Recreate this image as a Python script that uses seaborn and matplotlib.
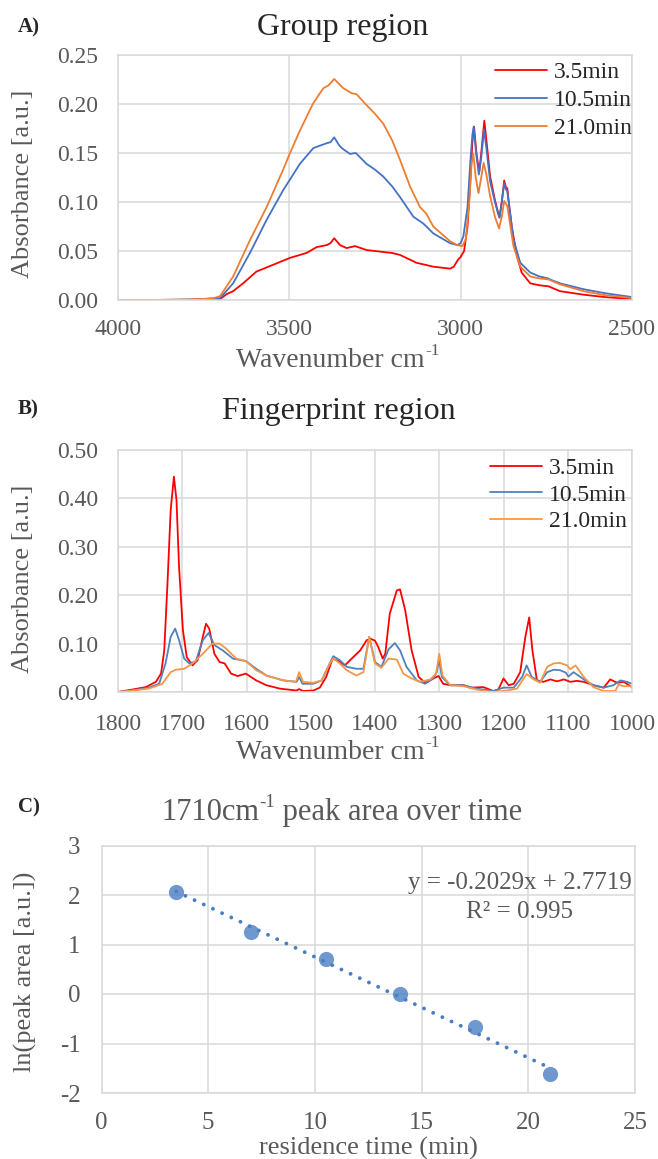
import matplotlib
matplotlib.use("Agg")
import numpy as np
import pandas as pd
import matplotlib.pyplot as plt
import seaborn as sns

# ---------------- A) group region (wavenumber, absorbance) ----------------
a_wn_35 = [4000, 3900, 3800, 3750, 3720, 3702, 3683, 3664, 3635, 3596, 3547, 3498, 3450, 3420,
           3391, 3380, 3369, 3352, 3333, 3308, 3275, 3250, 3226, 3200, 3177, 3129, 3080, 3031,
           3020, 3008, 3000, 2990, 2980, 2972, 2966, 2961, 2954, 2946, 2940, 2931, 2924, 2914,
           2900, 2887, 2880, 2873, 2868, 2864, 2858, 2851, 2836, 2822, 2797, 2770, 2744, 2710,
           2641, 2580, 2500]
a_ab_35 = [0.000, 0.000, 0.000, 0.0005, 0.001, 0.001, 0.006, 0.009, 0.017, 0.029, 0.036, 0.043,
           0.048, 0.054, 0.056, 0.058, 0.063, 0.056, 0.053, 0.055, 0.051, 0.050, 0.049, 0.048,
           0.046, 0.038, 0.034, 0.032, 0.034, 0.041, 0.044, 0.050, 0.075, 0.120, 0.160, 0.177,
           0.150, 0.130, 0.150, 0.183, 0.160, 0.126, 0.102, 0.084, 0.100, 0.122, 0.115, 0.114,
           0.095, 0.075, 0.045, 0.028, 0.017, 0.015, 0.014, 0.009, 0.0054, 0.003, 0.001]

a_wn_105 = [4000, 3900, 3800, 3750, 3702, 3664, 3615, 3566, 3518, 3469, 3430, 3391, 3380, 3369,
            3355, 3347, 3323, 3306, 3275, 3250, 3226, 3200, 3177, 3138, 3109, 3100, 3080, 3031,
            3010, 3000, 2992, 2980, 2972, 2966, 2962, 2955, 2947, 2940, 2932, 2925, 2914, 2900,
            2890, 2886, 2880, 2873, 2868, 2864, 2856, 2846, 2826, 2797, 2770, 2744, 2740, 2710,
            2641, 2580, 2500]
a_ab_105 = [0.000, 0.000, 0.0005, 0.001, 0.002, 0.017, 0.048, 0.082, 0.112, 0.139, 0.155, 0.160,
            0.161, 0.166, 0.158, 0.155, 0.149, 0.150, 0.139, 0.133, 0.126, 0.116, 0.105, 0.085,
            0.078, 0.075, 0.068, 0.058, 0.056, 0.058, 0.065, 0.095, 0.140, 0.168, 0.177, 0.150,
            0.128, 0.145, 0.174, 0.155, 0.121, 0.100, 0.087, 0.085, 0.100, 0.119, 0.113, 0.111,
            0.090, 0.062, 0.038, 0.028, 0.024, 0.022, 0.021, 0.017, 0.011, 0.007, 0.003]

a_wn_210 = [4000, 3900, 3800, 3750, 3720, 3702, 3664, 3615, 3566, 3518, 3498, 3469, 3430, 3401,
            3386, 3369, 3342, 3318, 3304, 3275, 3250, 3226, 3200, 3177, 3148, 3119, 3100, 3080,
            3031, 3010, 2995, 2985, 2975, 2968, 2963, 2956, 2948, 2940, 2933, 2925, 2914, 2900,
            2888, 2880, 2873, 2864, 2846, 2826, 2797, 2770, 2744, 2710, 2641, 2580, 2500]
a_ab_210 = [0.000, 0.000, 0.0005, 0.001, 0.002, 0.004, 0.024, 0.061, 0.095, 0.133, 0.150, 0.173,
            0.201, 0.216, 0.219, 0.2255, 0.216, 0.211, 0.210, 0.199, 0.190, 0.180, 0.163, 0.143,
            0.116, 0.095, 0.088, 0.075, 0.060, 0.056, 0.055, 0.062, 0.100, 0.140, 0.149, 0.125,
            0.109, 0.125, 0.140, 0.128, 0.106, 0.085, 0.073, 0.085, 0.101, 0.096, 0.055, 0.034,
            0.024, 0.022, 0.021, 0.016, 0.009, 0.005, 0.002]

# ---------------- B) fingerprint region ----------------
b_wn_35 = [1800, 1778, 1757, 1741, 1733, 1728, 1723, 1718, 1713, 1709, 1705, 1699, 1693, 1684,
           1676, 1668, 1663, 1658, 1650, 1642, 1634, 1624, 1614, 1601, 1585, 1569, 1548, 1522,
           1518, 1512, 1496, 1486, 1476, 1466, 1457, 1447, 1434, 1423, 1413, 1407, 1400, 1395,
           1388, 1384, 1377, 1366, 1361, 1353, 1343, 1332, 1322, 1309, 1301, 1294, 1283, 1262,
           1252, 1231, 1216, 1208, 1200, 1192, 1184, 1174, 1166, 1160, 1155, 1148, 1138, 1127,
           1117, 1106, 1096, 1086, 1075, 1060, 1044, 1034, 1023, 1013, 1000]
b_ab_35 = [0.000, 0.005, 0.010, 0.021, 0.038, 0.086, 0.224, 0.376, 0.445, 0.397, 0.259, 0.128,
           0.072, 0.055, 0.066, 0.114, 0.141, 0.131, 0.079, 0.062, 0.059, 0.038, 0.033, 0.038,
           0.024, 0.014, 0.007, 0.003, 0.006, 0.002, 0.003, 0.009, 0.031, 0.069, 0.064, 0.055,
           0.072, 0.086, 0.107, 0.110, 0.106, 0.093, 0.069, 0.079, 0.162, 0.210, 0.212, 0.169,
           0.086, 0.031, 0.019, 0.028, 0.033, 0.017, 0.014, 0.014, 0.009, 0.010, 0.002, 0.005,
           0.028, 0.014, 0.017, 0.041, 0.114, 0.154, 0.086, 0.024, 0.021, 0.026, 0.022, 0.026,
           0.021, 0.023, 0.021, 0.014, 0.009, 0.026, 0.019, 0.021, 0.010]

b_wn_105 = [1800, 1778, 1752, 1736, 1726, 1718, 1711, 1705, 1697, 1689, 1679, 1668, 1659, 1650,
            1637, 1621, 1601, 1585, 1569, 1543, 1522, 1518, 1513, 1496, 1483, 1473, 1465, 1455,
            1444, 1429, 1418, 1409, 1400, 1390, 1379, 1369, 1361, 1351, 1335, 1322, 1309, 1304,
            1300, 1296, 1283, 1262, 1242, 1216, 1200, 1184, 1171, 1164, 1156, 1143, 1132, 1122,
            1112, 1103, 1099, 1091, 1075, 1060, 1044, 1029, 1018, 1008, 1000]
b_ab_105 = [0.000, 0.003, 0.009, 0.017, 0.059, 0.114, 0.131, 0.107, 0.069, 0.059, 0.063, 0.107,
            0.122, 0.097, 0.086, 0.069, 0.064, 0.048, 0.034, 0.024, 0.021, 0.031, 0.017, 0.017,
            0.024, 0.052, 0.074, 0.066, 0.052, 0.048, 0.048, 0.114, 0.062, 0.052, 0.088, 0.101,
            0.086, 0.052, 0.024, 0.017, 0.028, 0.041, 0.066, 0.031, 0.014, 0.014, 0.007, 0.002,
            0.009, 0.009, 0.031, 0.055, 0.031, 0.021, 0.041, 0.046, 0.045, 0.040, 0.032, 0.041,
            0.026, 0.014, 0.009, 0.014, 0.024, 0.021, 0.017]

b_wn_210 = [1800, 1778, 1752, 1731, 1718, 1710, 1697, 1684, 1668, 1653, 1642, 1632, 1616, 1601,
            1585, 1569, 1543, 1523, 1518, 1512, 1496, 1483, 1473, 1465, 1455, 1444, 1429, 1418,
            1409, 1400, 1390, 1379, 1366, 1356, 1343, 1330, 1314, 1305, 1300, 1295, 1283, 1262,
            1242, 1216, 1195, 1179, 1164, 1153, 1143, 1132, 1122, 1112, 1101, 1096, 1088, 1075,
            1060, 1044, 1026, 1021, 1013, 1000]
b_ab_210 = [0.000, 0.003, 0.007, 0.017, 0.041, 0.046, 0.048, 0.059, 0.079, 0.100, 0.100, 0.090,
            0.069, 0.064, 0.045, 0.034, 0.024, 0.021, 0.041, 0.021, 0.019, 0.024, 0.052, 0.070,
            0.059, 0.045, 0.034, 0.041, 0.114, 0.059, 0.050, 0.069, 0.067, 0.038, 0.028, 0.021,
            0.026, 0.038, 0.079, 0.034, 0.014, 0.012, 0.005, 0.000, 0.003, 0.007, 0.037, 0.026,
            0.019, 0.052, 0.059, 0.060, 0.055, 0.047, 0.055, 0.031, 0.010, 0.002, 0.002, 0.015,
            0.012, 0.012]

series_labels = ["3.5min", "10.5min", "21.0min"]

# ---------------- C) 1710 cm-1 peak area ----------------
res_time = [3.5, 7.0, 10.5, 14.0, 17.5, 21.0]
ln_area = [2.07, 1.26, 0.70, 0.00, -0.67, -1.62]
fit_text = ["y = -0.2029x + 2.7719", "R\u00b2 = 0.995"]

# ---------------- style ----------------
sns.set_style("whitegrid", {"grid.color": "#D9D9D9", "axes.edgecolor": "#D9D9D9"})
plt.rcParams["font.family"] = ["Liberation Serif", "DejaVu Serif"]
plt.rcParams["axes.unicode_minus"] = False

GRAY = "#595959"
W, H = 658, 1159


def spectrum_df(wns, abss):
    frames = [pd.DataFrame({"wn": w, "absorb": a, "time": lab})
              for w, a, lab in zip(wns, abss, series_labels)]
    return pd.concat(frames, ignore_index=True)


def style_axes(ax, xpad, ypad, size):
    ax.grid(True, color="#D9D9D9", linewidth=1.1)
    for s in ax.spines.values():
        s.set_color("#D9D9D9")
        s.set_linewidth(1.1)
    ax.tick_params(axis="both", length=0, labelsize=size, labelcolor=GRAY)
    ax.tick_params(axis="x", pad=xpad)
    ax.tick_params(axis="y", pad=ypad)
    ax.set_xlabel("")
    ax.set_ylabel("")


def ftext(x, y, s, **kw):
    fig.text(x / W, 1 - y / H, s, ha=kw.pop("ha", "center"), va=kw.pop("va", "center"), **kw)


def sup_text(xc, y, parts, size, color):
    # parts: list of (text, is_superscript); centred on xc, baseline at y (pixels)
    r = fig.canvas.get_renderer()
    texts = []
    for s, sup in parts:
        fs = size * 0.62 if sup else size
        t = fig.text(0, 0, s, fontsize=fs, color=color, ha="left", va="baseline")
        texts.append((t, sup))
    widths = [t.get_window_extent(r).width for t, _ in texts]
    x = xc - sum(widths) / 2
    for (t, sup), w in zip(texts, widths):
        dy = size * 100 / 72 * 0.42 if sup else 0
        t.set_position((x / W, 1 - (y - dy) / H))
        x += w


fig = plt.figure(figsize=(W / 100, H / 100), dpi=100)

# panel A
ax_a = fig.add_axes([118 / W, 1 - 300 / H, 514 / W, 245 / H])
df_a = spectrum_df([a_wn_35, a_wn_105, a_wn_210], [a_ab_35, a_ab_105, a_ab_210])
sns.lineplot(data=df_a, x="wn", y="absorb", hue="time", estimator=None, ax=ax_a,
             palette=["#FF0000", "#4472C4", "#ED7D31"], linewidth=1.3)
ax_a.set_xlim(4000, 2500)
ax_a.set_ylim(0, 0.25)
ax_a.set_xticks([4000, 3500, 3000, 2500])
ax_a.set_yticks(np.arange(0, 0.26, 0.05))
ax_a.yaxis.set_major_formatter(matplotlib.ticker.FormatStrFormatter("%.2f"))
style_axes(ax_a, 14, 14, 17)
ax_a.legend(loc="upper right", bbox_to_anchor=(1.0, 0.972), frameon=False, fontsize=17,
            handlelength=2.2, handletextpad=0.3, labelspacing=0.275, borderpad=0,
            borderaxespad=0)

# panel B
ax_b = fig.add_axes([118 / W, 1 - 692 / H, 514 / W, 242 / H])
df_b = spectrum_df([b_wn_35, b_wn_105, b_wn_210], [b_ab_35, b_ab_105, b_ab_210])
sns.lineplot(data=df_b, x="wn", y="absorb", hue="time", estimator=None, ax=ax_b,
             palette=["#FF0000", "#4F81BD", "#F79646"], linewidth=1.3)
ax_b.set_xlim(1800, 1000)
ax_b.set_ylim(0, 0.5)
ax_b.set_xticks(np.arange(1800, 999, -100))
ax_b.set_yticks(np.arange(0, 0.51, 0.1))
ax_b.yaxis.set_major_formatter(matplotlib.ticker.FormatStrFormatter("%.2f"))
style_axes(ax_b, 16, 14, 17)
ax_b.legend(loc="upper right", bbox_to_anchor=(0.99, 0.968), frameon=False, fontsize=17,
            handlelength=2.2, handletextpad=0.3, labelspacing=0.21, borderpad=0,
            borderaxespad=0)

# panel C
ax_c = fig.add_axes([101.5 / W, 1 - 1093 / H, 533.5 / W, 247.5 / H])
BLUE = "#4A7EC2"
sns.regplot(x=res_time, y=ln_area, ci=None, ax=ax_c,
            scatter_kws=dict(s=120, color=BLUE, zorder=3, linewidths=0),
            line_kws=dict(color=BLUE, linewidth=2.8, linestyle=(0, (0.01, 2.6)),
                          dash_capstyle="round", zorder=2))
ax_c.set_xlim(0, 25)
ax_c.set_ylim(-2, 3)
ax_c.set_xticks(np.arange(0, 26, 5))
ax_c.set_yticks(np.arange(-2, 4, 1))
style_axes(ax_c, 14, 15, 18)
ax_c.text(19.6, 2.245, fit_text[0], ha="center", va="center", fontsize=18, color=GRAY)
ax_c.text(19.6, 1.665, fit_text[1], ha="center", va="center", fontsize=18, color=GRAY)

# titles, letters and axis labels
ftext(343, 27, "Group region", fontsize=23)
ftext(339, 412, "Fingerprint region", fontsize=23)
sup_text(342, 820, [("1710cm", False), ("-1", True), (" peak area over time", False)], 22, GRAY)
ftext(18, 27, "A)", ha="left", fontsize=15, fontweight="bold")
ftext(18, 409, "B)", ha="left", fontsize=15, fontweight="bold")
ftext(18, 807, "C)", ha="left", fontsize=15, fontweight="bold")

ftext(23, 184, "Absorbance [a.u.]", rotation=90, fontsize=19, color=GRAY)
ftext(23, 579, "Absorbance [a.u.]", rotation=90, fontsize=19, color=GRAY)
ftext(25, 972, "ln(peak area [a.u.])", rotation=90, fontsize=19, color=GRAY)
sup_text(338, 367, [("Wavenumber cm", False), ("-1", True)], 20, GRAY)
sup_text(338, 759, [("Wavenumber cm", False), ("-1", True)], 20, GRAY)
ftext(368, 1148, "residence time (min)", fontsize=19, color=GRAY)

fig.savefig("out.png", dpi=100)
